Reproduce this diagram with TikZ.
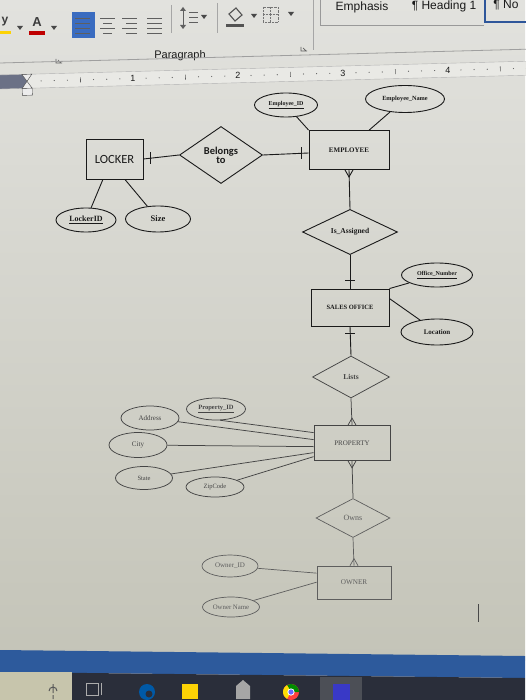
\documentclass[tikz,border=0pt]{standalone}
\usepackage{fontspec}
\setmainfont{Liberation Serif}
\newfontfamily\calfont{Carlito}
\newfontfamily\uifont{Liberation Sans}
\usetikzlibrary{shapes.geometric,calc}
\definecolor{pagetop}{HTML}{E2E2DE}
\definecolor{pagebot}{HTML}{C4C4B8}
\definecolor{ink}{HTML}{1A1A1A}
\definecolor{inkb}{HTML}{454545}
\definecolor{inkc}{HTML}{5E5E5E}
\definecolor{uiblue}{HTML}{3A6CC0}
\definecolor{barblue}{HTML}{2D5A9C}
\definecolor{taskdark}{HTML}{2A2E3A}
\definecolor{rulerbg}{HTML}{E9E9E5}
\definecolor{rulerdark}{HTML}{6B7186}
\begin{document}
\begin{tikzpicture}[x=1pt,y=-1pt,
  ent/.style={draw=ink, line width=0.9pt, rectangle, inner sep=0pt, text=ink},
  rel/.style={draw=ink, line width=0.9pt, diamond, inner sep=0pt, text=ink},
  attr/.style={draw=ink, line width=0.9pt, ellipse, inner sep=0pt, text=ink},
  conn/.style={draw=ink, line width=0.9pt},
  entb/.style={ent, draw=inkb, text=inkb, line width=0.75pt},
  relb/.style={rel, draw=inkb, text=inkb, line width=0.75pt},
  attrb/.style={attr, draw=inkb, text=inkb, line width=0.75pt},
  connb/.style={draw=inkb, line width=0.75pt},
  entc/.style={ent, draw=inkc, text=inkc, line width=0.7pt},
  relc/.style={rel, draw=inkc, text=inkc, line width=0.7pt},
  attrc/.style={attr, draw=inkc, text=inkc, line width=0.7pt},
  connc/.style={draw=inkc, line width=0.7pt},
  fs/.style={font=\bfseries\fontsize{#1}{#1}\selectfont},
  fr/.style={font=\fontsize{#1}{#1}\selectfont},
  uitext/.style={font=\uifont\fontsize{#1}{#1}\selectfont, text=ink},
  drop/.style={fill=ink!80},
]
\useasboundingbox (0,0) rectangle (525,700);
% background page / ribbon
\shade[top color=pagetop, bottom color=pagebot] (0,0) rectangle (525,660);

% ---------- ribbon ----------
\node[font=\uifont\bfseries\fontsize{12}{12}\selectfont, text=ink!85] (ylet) at (5,22) {y};
\fill[yellow!70!orange] (0,31) rectangle (11,34);
\fill[ink!80] (17,26) -- (23,26) -- (20,30) -- cycle;
\node[font=\uifont\bfseries\fontsize{13}{13}\selectfont, text=ink!85] (alet) at (37,22) {A};
\fill[red!75!black] (29,31) rectangle (45,35);
\fill[ink!80] (51,26) -- (57,26) -- (54,30) -- cycle;
\fill[uiblue] (72,12) rectangle (95,38);
\foreach \yy in {18,23,28,33} {\draw[ink!70, line width=0.9pt] (75,\yy) -- (90,\yy);}
\foreach \yy/\a/\b in {18/100/115,23/103/112,28/100/115,33/103/112} {\draw[ink!70, line width=0.9pt] (\a,\yy) -- (\b,\yy);}
\foreach \yy/\a in {18/122,23/126,28/122,33/126} {\draw[ink!70, line width=0.9pt] (\a,\yy) -- (137,\yy);}
\foreach \yy in {18,23,28,33} {\draw[ink!70, line width=0.9pt] (147,\yy) -- (162,\yy);}
\draw[gray!70] (171,5) -- (171,33);
\draw[ink!70, line width=0.9pt] (183,8) -- (183,28);
\fill[ink!70] (180,11) -- (186,11) -- (183,7) -- cycle;
\fill[ink!70] (180,25) -- (186,25) -- (183,29) -- cycle;
\foreach \yy in {12,17,22} {\draw[ink!70, line width=0.9pt] (189,\yy) -- (198,\yy);}
\fill[ink!80] (201,15) -- (207,15) -- (204,19) -- cycle;
\draw[gray!70] (217,3) -- (217,33);
\draw[ink!75, line width=1.1pt] (229,14) -- (236,8) -- (242,15) -- (235,21) -- cycle;
\fill[ink!75] (226,24) rectangle (244,27);
\fill[ink!80] (251,14) -- (257,14) -- (254,18) -- cycle;
\draw[ink!60, densely dotted] (263,7) rectangle (278,22);
\draw[ink!60, densely dotted] (270.5,7) -- (270.5,22) (263,14.5) -- (278,14.5);
\fill[ink!80] (288,12) -- (294,12) -- (291,16) -- cycle;
\draw[gray!70] (313,0) -- (313,50);
\draw[gray!80, line width=0.8pt] (320,0) -- (320,25) -- (484,25);
\draw[uiblue!80!black, line width=1.2pt] (485,-1) rectangle (527,22);
\node[uitext=12] (emph) at (362,7) {Emphasis};
\node[uitext=12] (head) at (444,6) {¶ Heading 1};
\node[uitext=12] (nostyle) at (506,5) {¶ No};
\node[uitext=11] (para) at (180,56) {Paragraph};
\draw[ink!70, line width=0.7pt] (56,59) -- (56,63) -- (62,63) (58,60) -- (61,63);
\draw[ink!70, line width=0.7pt] (301,47) -- (301,51) -- (307,51) (303,48) -- (306,51);

% ---------- ruler ----------
\begin{scope}[shift={(0,82)}, rotate=1.5]
  \draw[gray!75, line width=0.8pt] (0,-19) -- (530,-19);
  \fill[rulerbg] (0,-7) rectangle (530,7);
  \fill[rulerdark] (0,-7) rectangle (27,7);
  \draw[gray!60] (0,-7) -- (530,-7) (0,7) -- (530,7);
  \foreach \i in {1,...,38} {
    \pgfmathtruncatemacro\m{mod(\i,8)}
    \pgfmathsetmacro\xx{28+\i*13.125}
    \ifnum\m=4 \draw[ink!70, line width=0.6pt] (\xx,-2.5) -- (\xx,2.5);
    \else\ifnum\m=0 \else \fill[ink!70] (\xx,0) circle (0.6);\fi\fi
  }
  \foreach \k in {1,2,3,4} {\node[uitext=9, inner sep=0pt] at (28+105*\k,0) {\k};}
  \draw[ink!80, fill=white!85!gray] (22,-7) -- (32,-7) -- (27,0) -- cycle;
  \draw[ink!80, fill=white!85!gray] (22,7) -- (32,7) -- (27,0) -- cycle;
  \draw[ink!80, fill=white!85!gray] (22,7) rectangle (32,14);
\end{scope}

% ---------- ER diagram ----------
\node[ent, minimum width=57pt, minimum height=40pt, font=\calfont\fontsize{12.5}{12.5}\selectfont] (locker) at (114.5,159) {LOCKER};
\node[rel, minimum width=83pt, minimum height=57pt, font=\calfont\bfseries\fontsize{10.5}{10}\selectfont, align=center] (belongs) at (221,155) {Belongs\\[-1pt]to};
\node[ent, minimum width=80pt, minimum height=39pt, fs=7] (emp) at (349,150) {EMPLOYEE};
\node[attr, minimum width=63pt, minimum height=24pt, fs=6] (empid) at (286,105) {\underline{Employee\_ID}};
\node[attr, minimum width=79pt, minimum height=27pt, fs=6.3] (empname) at (405,99) {Employee\_Name};
\node[attr, minimum width=60pt, minimum height=24pt, fs=8] (lockerid) at (86,220) {\underline{LockerID}};
\node[attr, minimum width=65pt, minimum height=26pt, fs=8.5] (size) at (158,219) {Size};
\node[rel, minimum width=95pt, minimum height=43pt, fs=7.5] (assigned) at (350,232) {Is\_Assigned};
\node[ent, minimum width=78pt, minimum height=37pt, fs=6.5] (sales) at (350,307.5) {SALES OFFICE};
\node[attr, minimum width=71pt, minimum height=24pt, fs=6] (officenum) at (437,275) {\underline{Office\_Number}};
\node[attr, minimum width=72pt, minimum height=26pt, fs=7] (location) at (437,332) {Location};
\node[relb, minimum width=77pt, minimum height=42pt, fs=7.5] (lists) at (351,377) {Lists};
\node[entb, minimum width=76pt, minimum height=35pt, fr=7] (property) at (352,443) {PROPERTY};
\node[attrb, minimum width=59pt, minimum height=22pt, fs=6.5] (propid) at (216,409) {\underline{Property\_ID}};
\node[attrb, minimum width=58pt, minimum height=24pt, fr=7] (address) at (150,418) {Address};
\node[attrb, minimum width=58pt, minimum height=25pt, fr=7] (city) at (138,445) {City};
\node[attrb, minimum width=57pt, minimum height=23pt, fr=6.5] (state) at (144,478) {State};
\node[attrb, minimum width=58pt, minimum height=20pt, fr=6.5] (zip) at (215,487) {ZipCode};
\node[relc, minimum width=74pt, minimum height=39pt, fr=8] (owns) at (353,518) {Owns};
\node[entc, minimum width=74pt, minimum height=33pt, fr=7.2] (owner) at (354,582.5) {OWNER};
\node[attrc, minimum width=56pt, minimum height=22pt, fr=7] (ownerid) at (230,566) {Owner\_ID};
\node[attrc, minimum width=57pt, minimum height=20pt, fr=6.8] (ownername) at (231,607) {Owner Name};

% connectors
\draw[conn] (locker.east) -- (belongs.west);
\draw[conn] ($(locker.east)!0.2!(belongs.west)+(0,-6)$) -- ++(0,12);
\draw[conn] (belongs.east) -- ($(emp.west)+(0,3)$);
\draw[conn] ($(belongs.east)!0.85!($(emp.west)+(0,3)$)+(0,-6)$) -- ++(0,12);
\draw[conn] (empid) -- (emp.north west);
\draw[conn] (empname) -- ($(emp.north west)!0.75!(emp.north east)$);
\draw[conn] ($(locker.south west)!0.3!(locker.south east)$) -- (lockerid);
\draw[conn] ($(locker.south west)!0.68!(locker.south east)$) -- (size);
% EMPLOYEE -- Is_Assigned (many at EMPLOYEE)
\draw[conn] (emp.south) -- (assigned.north);
\draw[conn] ($(emp.south)+(-4,0)$) -- ($(emp.south)+(0,7)$) -- ($(emp.south)+(4,0)$);
% Is_Assigned -- SALES OFFICE
\draw[conn] (assigned.south) -- (sales.north);
\draw[conn] ($(sales.north)+(-5,-8)$) -- ++(10,0);
\draw[conn] ($(sales.north east)+(0,0)$) -- (officenum);
\draw[conn] ($(sales.north east)+(0,10)$) -- (location);
% SALES OFFICE -- Lists
\draw[conn] (sales.south) -- (lists.north);
\draw[conn] ($(sales.south)+(-5,7)$) -- ++(10,0);
% Lists -- PROPERTY (many)
\draw[connb] (lists.south) -- (property.north);
\draw[connb] ($(property.north)+(-4,0)$) -- ($(property.north)+(0,-7)$) -- ($(property.north)+(4,0)$);
% property attributes
\draw[connb] (propid.-70) -- ($(property.north west)+(0,7.5)$);
\draw[connb] (address) -- ($(property.north west)+(0,14.5)$);
\draw[connb] (city) -- ($(property.north west)+(0,21.5)$);
\draw[connb] (state) -- ($(property.north west)+(0,27.5)$);
\draw[connb] (zip) -- ($(property.north west)+(0,31.5)$);
% PROPERTY -- Owns (many at PROPERTY)
\draw[connb] (property.south) -- (owns.north);
\draw[connb] ($(property.south)+(-4,0)$) -- ($(property.south)+(0,7)$) -- ($(property.south)+(4,0)$);
% Owns -- OWNER (many at OWNER)
\draw[connc] (owns.south) -- (owner.north);
\draw[connc] ($(owner.north)+(-4,0)$) -- ($(owner.north)+(0,-7)$) -- ($(owner.north)+(4,0)$);
\draw[connc] (ownerid) -- ($(owner.north west)+(0,7.5)$);
\draw[connc] (ownername) -- ($(owner.north west)+(0,16.5)$);

% text cursor
\draw[ink!80, line width=0.8pt] (478,604) -- (478,622);

% ---------- taskbar ----------
\fill[barblue] (0,650) -- (525,656) -- (525,678) -- (0,672) -- cycle;
\fill[taskdark] (0,672) -- (525,678) -- (525,700) -- (0,700) -- cycle;
\fill[gray!45!yellow!30!white!80!black] (0,672) rectangle (72,700);
\draw[gray!70!black, line width=1pt] (53,684) -- (53,693) (49,691) arc (180:360:4) (53,695) -- (53,699);
\draw[gray!65, line width=0.9pt] (86,683) rectangle (98,695) (101,683) -- (101,695);
\fill[teal!70!blue] (147,692) circle (8);
\fill[taskdark] (149,694) circle (3.5);
\fill[yellow!70!orange] (182,684) rectangle (198,699);
\fill[gray!70] (236,686) -- (243,680) -- (250,686) -- (250,699) -- (236,699) -- cycle;
\fill[red!75] (291,692) circle (8);
\fill[green!55!black] (291,692) -- (299,692) arc (0:-120:8) -- cycle;
\fill[yellow!80!orange] (291,692) -- ($(291,692)+(-120:8)$) arc (-120:-240:8) -- cycle;
\fill[white] (291,692) circle (3.6);
\fill[blue!60] (291,692) circle (2.6);
\fill[gray!40!taskdark] (320,677) rectangle (362,700);
\fill[blue!55!gray] (333,684) rectangle (350,700);
\end{tikzpicture}
\end{document}
